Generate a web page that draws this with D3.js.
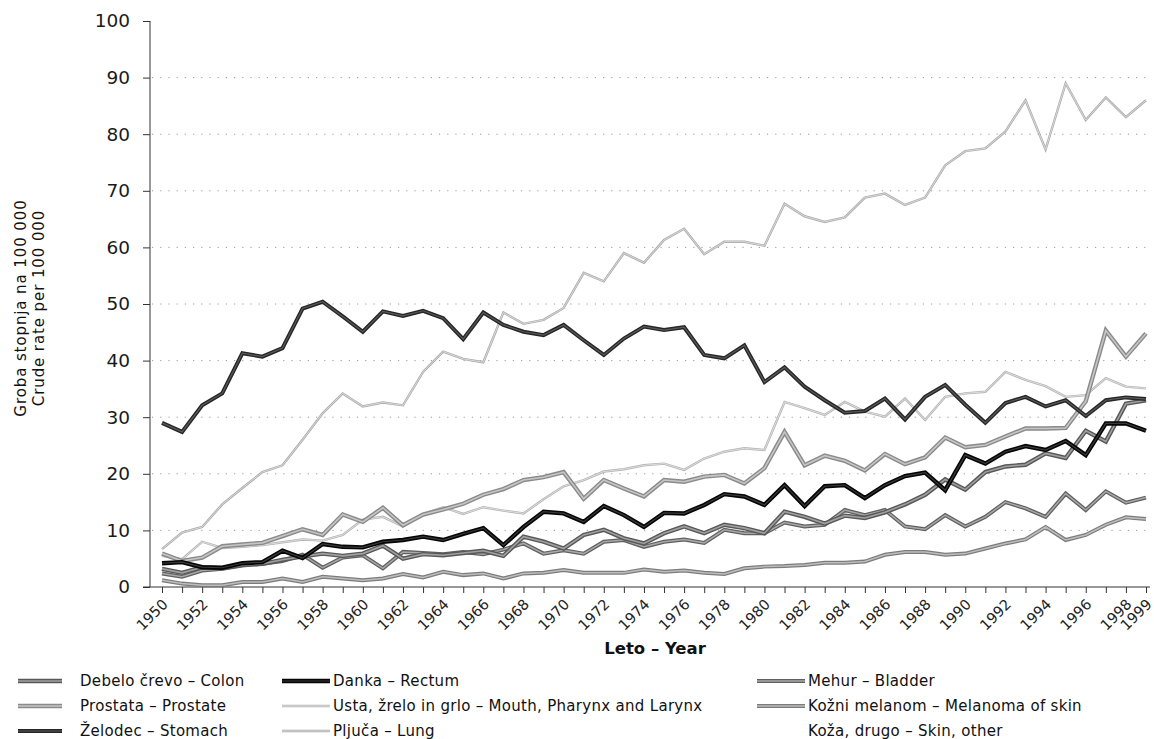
<!DOCTYPE html>
<html>
<head>
<meta charset="utf-8">
<script src="https://cdn.jsdelivr.net/npm/d3@7"></script>
<style>
  html, body { margin: 0; padding: 0; background: #fff; }
  svg { display: block; font-family: "DejaVu Sans", "Noto Sans", sans-serif; }
</style>
</head>
<body>
<svg id="chart" width="1154" height="739"></svg>
<script>
// ---- data ----
const years = [1950,1951,1952,1953,1954,1955,1956,1957,1958,1959,
               1960,1961,1962,1963,1964,1965,1966,1967,1968,1969,
               1970,1971,1972,1973,1974,1975,1976,1977,1978,1979,
               1980,1981,1982,1983,1984,1985,1986,1987,1988,1989,
               1990,1991,1992,1993,1994,1995,1996,1997,1998,1999];
const yTicks = [0,10,20,30,40,50,60,70,80,90,100];
const xTickLabels = [1950,1952,1954,1956,1958,1960,1962,1964,1966,1968,1970,1972,1974,1976,1978,1980,1982,1984,1986,1988,1990,1992,1994,1996,1998,1999];

const lung = [6.7,9.6,10.6,14.6,17.5,20.3,21.5,26,30.7,34.2,
              31.9,32.6,32.1,38,41.6,40.3,39.7,48.5,46.5,47.2,
              49.3,55.5,54,59,57.3,61.3,63.3,58.8,61,61,
              60.3,67.7,65.5,64.5,65.3,68.8,69.5,67.5,68.8,74.5,
              77,77.5,80.5,86,77.3,89,82.5,86.5,83,86];
const stomach = [29,27.4,32.1,34.2,41.3,40.7,42.2,49.2,50.4,47.8,
                 45.1,48.7,47.9,48.8,47.5,43.8,48.5,46.3,45.1,44.5,
                 46.3,43.6,41,43.9,46,45.4,45.9,41,40.4,42.7,
                 36.2,38.8,35.4,33,30.8,31.1,33.3,29.6,33.6,35.7,
                 32.2,29,32.5,33.6,31.9,33,30.2,33,33.5,33.2];
const rectum = [4.2,4.4,3.5,3.4,4.2,4.4,6.4,5.1,7.6,7.1,
                7.0,8.0,8.3,8.9,8.3,9.4,10.4,7.4,10.6,13.3,
                13.0,11.5,14.3,12.7,10.6,13.1,13.0,14.5,16.4,16.0,
                14.5,18.0,14.3,17.8,18.0,15.7,18.0,19.6,20.2,17.1,
                23.3,21.8,23.9,24.9,24.2,25.8,23.3,28.9,28.9,27.6];
const prostate = [5.9,4.6,5.2,7.2,7.5,7.8,9.0,10.2,9.2,12.8,
                  11.5,14.0,10.9,12.8,13.7,14.7,16.3,17.3,18.9,19.4,
                  20.3,15.6,18.9,17.4,16.0,18.9,18.6,19.5,19.8,18.3,
                  21.0,27.4,21.5,23.2,22.3,20.6,23.5,21.7,22.9,26.4,
                  24.7,25.1,26.6,28.0,28.0,28.1,32.8,45.3,40.7,44.8];
const mouth = [5.5,4.9,8.0,6.9,7.1,7.4,7.9,8.4,8.2,9.2,
               11.9,12.4,10.7,12.9,14.1,12.9,14.1,13.5,13.0,15.5,
               17.8,18.9,20.4,20.8,21.5,21.8,20.7,22.7,23.9,24.5,
               24.2,32.7,31.6,30.4,32.7,31.0,30.1,33.3,29.5,33.6,
               34.2,34.5,38.0,36.6,35.5,33.6,33.9,36.9,35.4,35.1];
const colon = [3.2,2.5,3.5,3.3,3.9,4.1,4.8,5.4,5.9,5.5,
               5.9,7.3,5.0,5.8,5.6,6.0,6.4,5.5,8.9,8.0,
               6.8,9.2,10.1,8.6,7.7,9.5,10.7,9.5,11.0,10.4,
               9.5,13.3,12.4,11.2,12.6,12.2,13.2,14.6,16.3,19.0,
               17.2,20.3,21.3,21.6,23.6,22.8,27.6,25.7,32.4,33.0];
const bladder = [2.4,1.8,2.9,3.2,3.8,4.1,4.6,5.7,3.4,5.2,
                 5.6,3.3,6.2,6.0,5.8,6.2,5.8,6.6,7.7,5.9,
                 6.5,5.9,8.0,8.3,7.1,8.0,8.4,7.8,10.1,9.5,
                 9.5,11.4,10.7,11.0,13.6,12.7,13.6,10.7,10.2,12.7,
                 10.7,12.4,15.0,13.9,12.4,16.5,13.6,16.9,14.9,15.8];
const melanoma = [1.2,0.6,0.3,0.3,0.9,0.9,1.5,0.9,1.8,1.5,
                  1.2,1.5,2.3,1.7,2.7,2.1,2.4,1.5,2.4,2.5,
                  3.0,2.5,2.5,2.5,3.1,2.7,2.9,2.5,2.3,3.3,
                  3.6,3.7,3.9,4.3,4.3,4.5,5.7,6.2,6.2,5.7,
                  5.9,6.8,7.7,8.4,10.6,8.3,9.2,11.0,12.3,12.0];

const seriesNames = {
  colon: "Debelo črevo – Colon",
  prostate: "Prostata – Prostate",
  stomach: "Želodec – Stomach",
  rectum: "Danka – Rectum",
  mouth: "Usta, žrelo in grlo – Mouth, Pharynx and Larynx",
  lung: "Pljuča – Lung",
  bladder: "Mehur – Bladder",
  melanoma: "Kožni melanom – Melanoma of skin",
  skin: "Koža, drugo – Skin, other"
};

// ---- styles (not data) ----
const styles = {
  lung:     {outer:"#ababab", ow:2.4, inner:"#e4e4e4", iw:0.8},
  mouth:    {outer:"#b3b3b3", ow:2.4, inner:"#e8e8e8", iw:0.8},
  prostate: {outer:"#8a8a8a", ow:4.4, inner:"#c6c6c6", iw:1.6},
  melanoma: {outer:"#7c7c7c", ow:4.0, inner:"#bdbdbd", iw:1.5},
  bladder:  {outer:"#606060", ow:4.0, inner:"#a8a8a8", iw:1.5},
  colon:    {outer:"#585858", ow:4.4, inner:"#a0a0a0", iw:1.6},
  rectum:   {outer:"#050505", ow:4.4, inner:"#3a3a3a", iw:1.2},
  stomach:  {outer:"#262626", ow:4.0, inner:"#5a5a5a", iw:1.2}
};
const seriesData = {lung, mouth, prostate, melanoma, bladder, colon, rectum, stomach};
const drawOrder = ["lung","mouth","prostate","melanoma","bladder","colon","rectum","stomach"];

const svg = d3.select("#chart");
const x = d3.scaleLinear().domain([1950, 1999]).range([162, 1146]);
const y = d3.scaleLinear().domain([0, 100]).range([587, 21]);

// gridlines
svg.append("g").selectAll("line")
  .data(yTicks.filter(d => d > 0 && d < 100))
  .join("line")
  .attr("x1", 152).attr("x2", 1150)
  .attr("y1", d => y(d)).attr("y2", d => y(d))
  .attr("stroke", "#9a9a9a").attr("stroke-width", 1)
  .attr("stroke-dasharray", "1.2,7");

// y axis
const yAxis = d3.axisLeft(y).tickValues(yTicks).tickSize(7).tickPadding(13);
const gy = svg.append("g").attr("transform", "translate(150,0)").call(yAxis);
gy.select(".domain").attr("stroke", "#333").attr("d", "M0,21V587");
gy.selectAll(".tick line").attr("stroke", "#333");
gy.selectAll(".tick text").attr("font-size", 18.5).attr("fill", "#1a1a1a")
  .attr("font-family", "'DejaVu Sans', sans-serif").attr("font-weight", 400);

// x axis
const xAxis = d3.axisBottom(x).tickValues(years).tickSize(6).tickFormat("");
const gx = svg.append("g").attr("transform", "translate(0,587)").call(xAxis);
gx.select(".domain").attr("stroke", "#333").attr("d", "M143,0H1150");
gx.selectAll(".tick line").attr("stroke", "#333");

svg.append("g").selectAll("text")
  .data(xTickLabels)
  .join("text")
  .attr("transform", d => `translate(${x(d) + 0.5},${599}) rotate(-45)`)
  .attr("text-anchor", "end")
  .attr("dy", "0.6em")
  .attr("font-size", 14.5)
  .attr("fill", "#222")
  .text(d => d);

// axis titles
svg.append("text").attr("x", 655).attr("y", 654).attr("text-anchor", "middle")
  .attr("font-size", 16.5).attr("font-weight", 700).attr("fill", "#111")
  .text("Leto – Year");
svg.append("text").attr("transform", "translate(26,308) rotate(-90)")
  .attr("text-anchor", "middle").attr("font-size", 15).attr("letter-spacing", 0.9)
  .attr("fill", "#111")
  .text("Groba stopnja na 100 000");
svg.append("text").attr("transform", "translate(44,308) rotate(-90)")
  .attr("text-anchor", "middle").attr("font-size", 15).attr("letter-spacing", 0.9)
  .attr("fill", "#111")
  .text("Crude rate per 100 000");

// lines
const line = d3.line().x((d, i) => x(years[i])).y(d => y(d)).curve(d3.curveLinear);
const gl = svg.append("g");
drawOrder.forEach(k => {
  const s = styles[k];
  gl.append("path").attr("d", line(seriesData[k])).attr("fill", "none")
    .attr("stroke", s.outer).attr("stroke-width", s.ow).attr("stroke-linejoin", "miter");
  gl.append("path").attr("d", line(seriesData[k])).attr("fill", "none")
    .attr("stroke", s.inner).attr("stroke-width", s.iw).attr("stroke-linejoin", "miter");
});

// legend
const legendItems = [
  {k:"colon", col:0, row:0}, {k:"prostate", col:0, row:1}, {k:"stomach", col:0, row:2},
  {k:"rectum", col:1, row:0}, {k:"mouth", col:1, row:1}, {k:"lung", col:1, row:2},
  {k:"bladder", col:2, row:0}, {k:"melanoma", col:2, row:1}, {k:"skin", col:2, row:2}
];
const colX = [{sx:18, sw:44, tx:80}, {sx:282, sw:48, tx:333}, {sx:757, sw:48, tx:808}];
const rowY = [681, 706, 731];
const gLeg = svg.append("g");
legendItems.forEach(it => {
  const c = colX[it.col], yy = rowY[it.row];
  const s = styles[it.k];
  if (s) {
    gLeg.append("line").attr("x1", c.sx).attr("x2", c.sx + c.sw).attr("y1", yy).attr("y2", yy)
      .attr("stroke", s.outer).attr("stroke-width", s.ow);
    gLeg.append("line").attr("x1", c.sx).attr("x2", c.sx + c.sw).attr("y1", yy).attr("y2", yy)
      .attr("stroke", s.inner).attr("stroke-width", s.iw);
  }
  gLeg.append("text").attr("x", c.tx).attr("y", yy).attr("dy", "0.35em")
    .attr("font-size", 15).attr("letter-spacing", 0.3)
    .attr("fill", "#111").text(seriesNames[it.k]);
});
</script>
</body>
</html>
